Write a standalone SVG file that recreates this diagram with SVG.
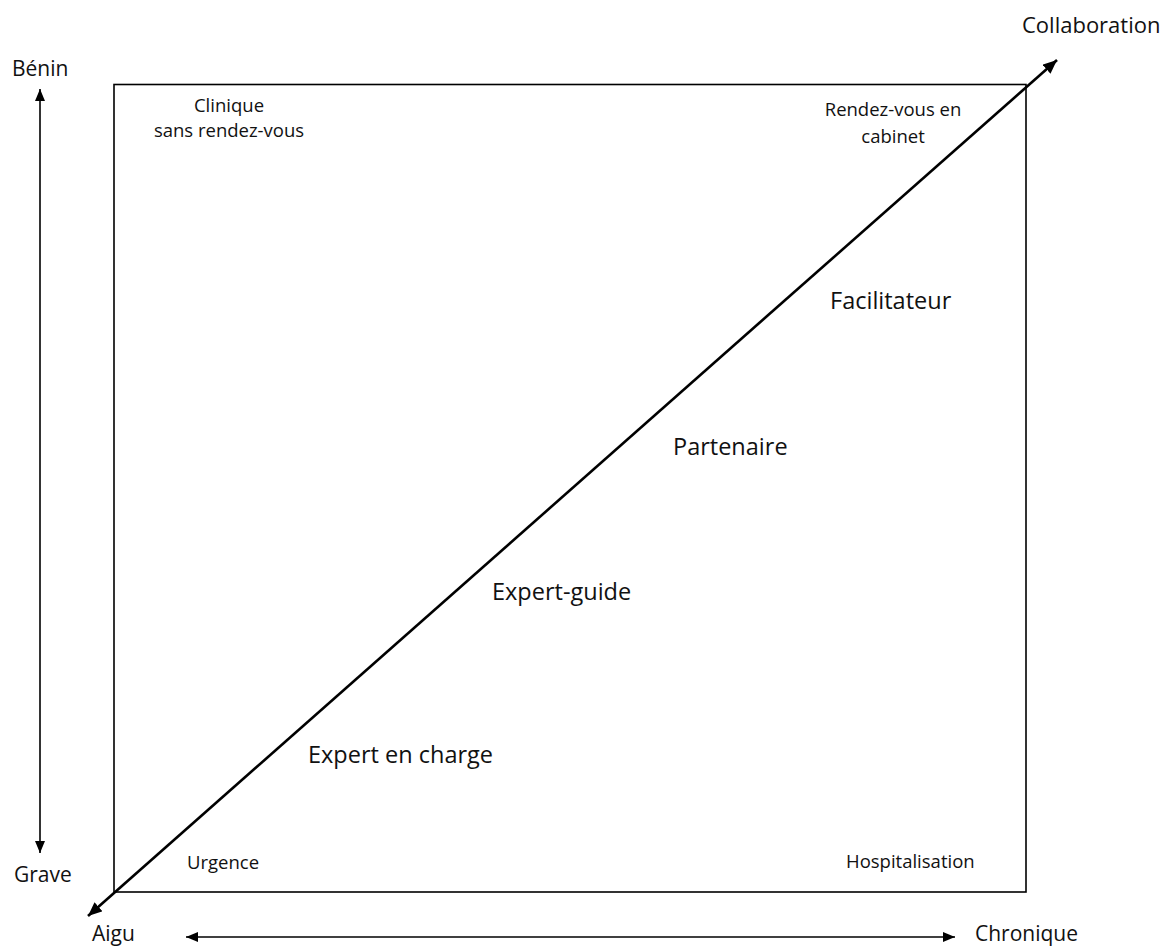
<svg xmlns="http://www.w3.org/2000/svg" width="1173" height="947" viewBox="0 0 1173 947">
<style>
text{font-family:"Open Sans","Noto Sans","Liberation Sans",sans-serif;fill:#111}
.ax{font-size:21px}
.sm{font-size:18.5px}
.lg{font-size:23.5px}
.thin{stroke:#000;stroke-width:1.6;fill:none}
.thick{stroke:#000;stroke-width:2.6;fill:none}
</style>
<defs>
<marker id="ah" viewBox="0 0 12 10" refX="12" refY="5" markerWidth="12" markerHeight="10" markerUnits="userSpaceOnUse" orient="auto-start-reverse">
<path d="M0,0 L12,5 L0,10 Z" fill="#000"/>
</marker>
<marker id="ahb" viewBox="0 0 14 12" refX="14" refY="6" markerWidth="14" markerHeight="12" markerUnits="userSpaceOnUse" orient="auto-start-reverse">
<path d="M0,0 L14,6 L0,12 Z" fill="#000"/>
</marker>
</defs>
<rect width="1173" height="947" fill="#fff"/>
<g id="frame">
<rect x="114" y="84.5" width="912" height="807.5" class="thin"/>
</g>
<g id="connectors">
<line x1="40" y1="89" x2="40" y2="853" class="thin" marker-start="url(#ah)" marker-end="url(#ah)"/>
<line x1="186" y1="937" x2="955" y2="937" class="thin" marker-start="url(#ah)" marker-end="url(#ah)"/>
<line x1="88" y1="916" x2="1057" y2="60" class="thick" marker-start="url(#ahb)" marker-end="url(#ahb)"/>
</g>
<g id="axis-labels">
<text class="ax" x="12" y="76">Bénin</text>
<text class="ax" x="14" y="882">Grave</text>
<text class="ax" x="92" y="941">Aigu</text>
<text class="ax" x="975" y="941">Chronique</text>
<text class="ax" x="1022" y="33" style="font-size:22px">Collaboration</text>
</g>
<g id="node-clinique">
<text class="sm" x="229" y="112" text-anchor="middle">Clinique</text>
<text class="sm" x="229" y="137" text-anchor="middle">sans rendez-vous</text>
</g>
<g id="node-cabinet">
<text class="sm" x="893" y="116" text-anchor="middle">Rendez-vous en</text>
<text class="sm" x="893" y="143" text-anchor="middle">cabinet</text>
</g>
<g id="node-urgence">
<text class="sm" x="187" y="869">Urgence</text>
</g>
<g id="node-hospitalisation">
<text class="sm" x="846" y="868">Hospitalisation</text>
</g>
<g id="node-facilitateur">
<text class="lg" x="830" y="309">Facilitateur</text>
</g>
<g id="node-partenaire">
<text class="lg" x="673" y="455">Partenaire</text>
</g>
<g id="node-expert-guide">
<text class="lg" x="492" y="600">Expert-guide</text>
</g>
<g id="node-expert-charge">
<text class="lg" x="308" y="763">Expert en charge</text>
</g>
</svg>
